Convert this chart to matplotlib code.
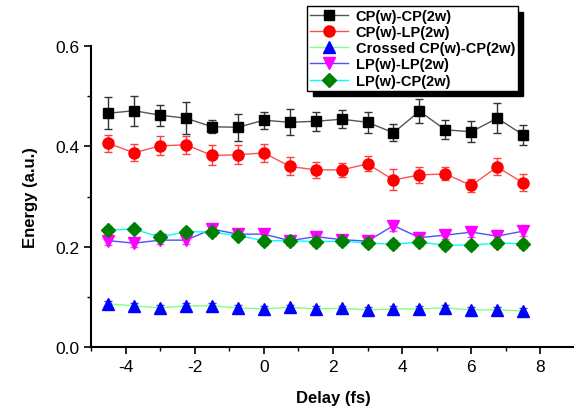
import matplotlib
matplotlib.use('Agg')

import matplotlib.pyplot as plt
import numpy as np

plt.rcParams['font.family'] = ['Liberation Sans', 'DejaVu Sans']
plt.rcParams['axes.unicode_minus'] = False

delay = [-4.5, -3.75, -3.0, -2.25, -1.5, -0.75, 0.0, 0.75, 1.5, 2.25,
         3.0, 3.75, 4.5, 5.25, 6.0, 6.75, 7.5]

cp_cp = [0.466, 0.471, 0.462, 0.456, 0.439, 0.438, 0.452, 0.448, 0.450, 0.454,
         0.448, 0.427, 0.470, 0.433, 0.429, 0.456, 0.423]
cp_cp_err = [0.032, 0.030, 0.021, 0.032, 0.013, 0.027, 0.017, 0.026, 0.019, 0.018,
             0.021, 0.017, 0.024, 0.019, 0.021, 0.030, 0.020]

cp_lp = [0.406, 0.387, 0.401, 0.403, 0.382, 0.383, 0.387, 0.360, 0.353, 0.353,
         0.365, 0.333, 0.343, 0.345, 0.322, 0.359, 0.327]
cp_lp_err = [0.017, 0.017, 0.019, 0.018, 0.020, 0.019, 0.018, 0.018, 0.016, 0.014,
             0.015, 0.021, 0.016, 0.013, 0.013, 0.017, 0.017]

crossed = [0.086, 0.082, 0.078, 0.082, 0.082, 0.078, 0.076, 0.079, 0.076, 0.077,
           0.074, 0.076, 0.076, 0.078, 0.074, 0.074, 0.072]
crossed_err = [0.006, 0.006, 0.006, 0.005, 0.005, 0.005, 0.005, 0.005, 0.005, 0.005,
               0.005, 0.005, 0.005, 0.005, 0.005, 0.005, 0.005]

lp_lp = [0.212, 0.207, 0.213, 0.213, 0.235, 0.225, 0.225, 0.212, 0.220, 0.214,
         0.211, 0.242, 0.218, 0.223, 0.229, 0.221, 0.231]
lp_lp_err = [0.008, 0.008, 0.008, 0.008, 0.010, 0.008, 0.008, 0.008, 0.008, 0.008,
             0.008, 0.010, 0.008, 0.008, 0.009, 0.008, 0.010]

lp_cp = [0.233, 0.235, 0.219, 0.230, 0.229, 0.222, 0.212, 0.212, 0.210, 0.211,
         0.207, 0.205, 0.209, 0.203, 0.203, 0.207, 0.206]
lp_cp_err = [0.006, 0.006, 0.007, 0.007, 0.007, 0.007, 0.008, 0.008, 0.008, 0.008,
             0.008, 0.008, 0.008, 0.008, 0.008, 0.008, 0.008]

fig = plt.figure(figsize=(5.74, 4.10), dpi=100)
ax = fig.add_axes([91 / 574, 62 / 410, 484 / 574, 301 / 410])

series = [
    (cp_cp, cp_cp_err, 'CP(w)-CP(2w)', 's', 'black', '#555555', '#333333', 7),
    (cp_lp, cp_lp_err, 'CP(w)-LP(2w)', 'o', 'red', '#ff5050', '#ff4040', 8),
    (crossed, crossed_err, 'Crossed CP(w)-CP(2w)', '^', 'blue', '#80ff80', '#4040ff', 8),
    (lp_lp, lp_lp_err, 'LP(w)-LP(2w)', 'v', 'magenta', '#4f4fff', '#ff40ff', 8),
    (lp_cp, lp_cp_err, 'LP(w)-CP(2w)', 'D', 'green', 'cyan', '#208020', 7),
]

handles = []
for vals, err, name, mk, mc, lc, ec, ms in series:
    ax.errorbar(delay, vals, yerr=err, fmt='none', ecolor=ec, elinewidth=1,
                capsize=3, capthick=1, zorder=2)
    h, = ax.plot(delay, vals, '-', color=lc, lw=1, marker=mk, markersize=ms,
                 markerfacecolor=mc, markeredgecolor=mc, label=name, zorder=3)
    handles.append(h)

ax.set_xlim(-5, 9)
ax.set_ylim(0, 0.6)
ax.set_xticks([-4, -2, 0, 2, 4, 6, 8])
ax.set_xticks([-5, -3, -1, 1, 3, 5, 7, 9], minor=True)
ax.set_yticks([0.0, 0.2, 0.4, 0.6])
ax.set_yticks([0.1, 0.3, 0.5], minor=True)
ax.set_yticklabels(['0.0', '0.2', '0.4', '0.6'])
ax.spines['top'].set_visible(False)
ax.spines['right'].set_visible(False)
ax.spines['left'].set_linewidth(1.5)
ax.spines['bottom'].set_linewidth(1.5)
ax.tick_params(which='major', direction='out', length=5, width=1.2, labelsize=12.5)
ax.tick_params(which='minor', direction='out', length=3, width=1.0)

ax.set_xlabel('Delay (fs)', fontsize=12, fontweight='bold', labelpad=12)
ax.set_ylabel('Energy (a.u.)', fontsize=12, fontweight='bold', labelpad=12)

leg = ax.legend(handles=handles, loc='upper right', bbox_to_anchor=(0.882, 1.133),
                borderaxespad=0, numpoints=1, fancybox=False, edgecolor='black',
                framealpha=1, prop={'weight': 'bold', 'size': 10.5}, handlelength=2.6,
                labelspacing=0.15, borderpad=0.2, handletextpad=0.5,
                shadow={'color': 'black', 'alpha': 1, 'ox': 4, 'oy': -4})
leg.get_frame().set_linewidth(1.0)

fig.savefig('out.png', dpi=100)
